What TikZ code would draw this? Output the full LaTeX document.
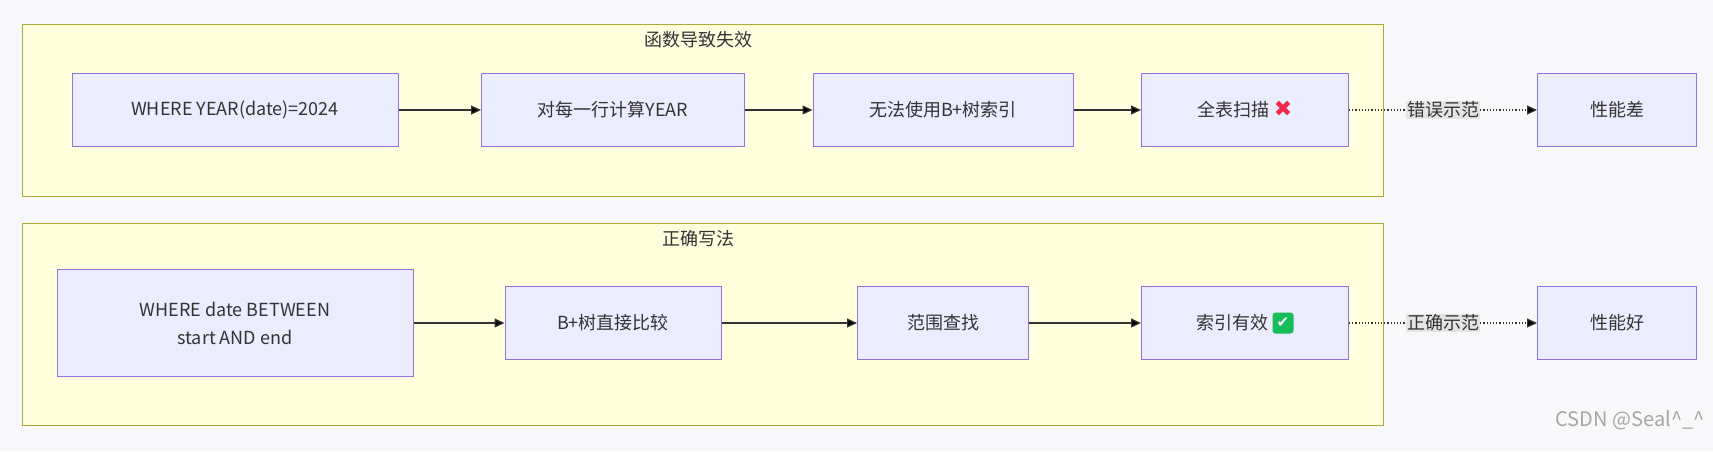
\documentclass[tikz,border=0pt]{standalone}
\usepackage{fontspec}
\setmainfont{Noto Sans CJK SC}
\newfontfamily\symfont{DejaVu Sans}
\usetikzlibrary{positioning,arrows.meta}
\definecolor{bgc}{HTML}{F8F8FA}
\definecolor{clfill}{HTML}{FFFFDE}
\definecolor{cldraw}{HTML}{AAAA33}
\definecolor{ndfill}{HTML}{ECECFF}
\definecolor{nddraw}{HTML}{9370DB}
\definecolor{edge}{HTML}{333333}
\definecolor{lbl}{HTML}{E4E4E4}
\newcommand{\badmark}{{\symfont\color[HTML]{F0284A}\fontsize{22}{22}\selectfont ✖}}
\newcommand{\okmark}{\tikz[baseline=-6pt]\node[fill={rgb,255:red,22;green,190;blue,90},rounded corners=3pt,minimum size=21pt,inner sep=0pt,text=white]{\symfont\fontsize{15}{15}\selectfont ✔};}
\begin{document}
\begin{tikzpicture}[x=1pt,y=-1pt,
  box/.style={draw=nddraw,fill=ndfill,line width=1pt,align=center,font=\fontsize{18}{28}\selectfont,text=edge,inner sep=0pt},
  cluster/.style={draw=cldraw,fill=clfill,line width=1pt},
  ctitle/.style={font=\fontsize{18}{20}\selectfont,text=edge},
  arr/.style={-{Triangle[length=10pt,width=9pt]},draw=edge,line width=1.2pt},
  dot/.style={-{Triangle[length=10pt,width=9pt]},draw=edge,line width=1.2pt,dotted},
  elab/.style={fill=lbl,font=\fontsize{18}{20}\selectfont,text=edge,inner sep=1pt}]
\fill[bgc] (0,0) rectangle (1713,451);
\draw[cluster] (22,24) rectangle (1383,196);
\draw[cluster] (22,223) rectangle (1383,425);
\node[ctitle] (t1) at (698,40) {函数导致失效};
\node[ctitle] (t2) at (698,239) {正确写法};

\node[box,minimum width=326pt,minimum height=73pt] (a1) at (235,110) {WHERE YEAR(date)=2024};
\node[box,minimum width=263pt,minimum height=73pt] (a2) at (613,110) {对每一行计算YEAR};
\node[box,minimum width=260pt,minimum height=73pt] (a3) at (943,110) {无法使用B+树索引};
\node[box,minimum width=207pt,minimum height=73pt] (a4) at (1245,110) {全表扫描 \badmark};
\node[box,minimum width=159pt,minimum height=73pt] (p1) at (1617,110) {性能差};

\node[box,minimum width=356pt,minimum height=107pt] (b1) at (235,323) {WHERE date BETWEEN\\start AND end};
\node[box,minimum width=216pt,minimum height=73pt] (b2) at (613,323) {B+树直接比较};
\node[box,minimum width=171pt,minimum height=73pt] (b3) at (943,323) {范围查找};
\node[box,minimum width=207pt,minimum height=73pt] (b4) at (1245,323) {索引有效 \okmark};
\node[box,minimum width=159pt,minimum height=73pt] (p2) at (1617,323) {性能好};

\draw[arr] (a1) -- (a2);
\draw[arr] (a2) -- (a3);
\draw[arr] (a3) -- (a4);
\draw[dot] (a4) -- node[elab]{错误示范} (p1);
\draw[arr] (b1) -- (b2);
\draw[arr] (b2) -- (b3);
\draw[arr] (b3) -- (b4);
\draw[dot] (b4) -- node[elab]{正确示范} (p2);

\node[font=\fontsize{20}{20}\selectfont,text=black!35,anchor=east] (wm) at (1708,420) {CSDN @Seal\^{}\_\^{}};
\end{tikzpicture}
\end{document}
